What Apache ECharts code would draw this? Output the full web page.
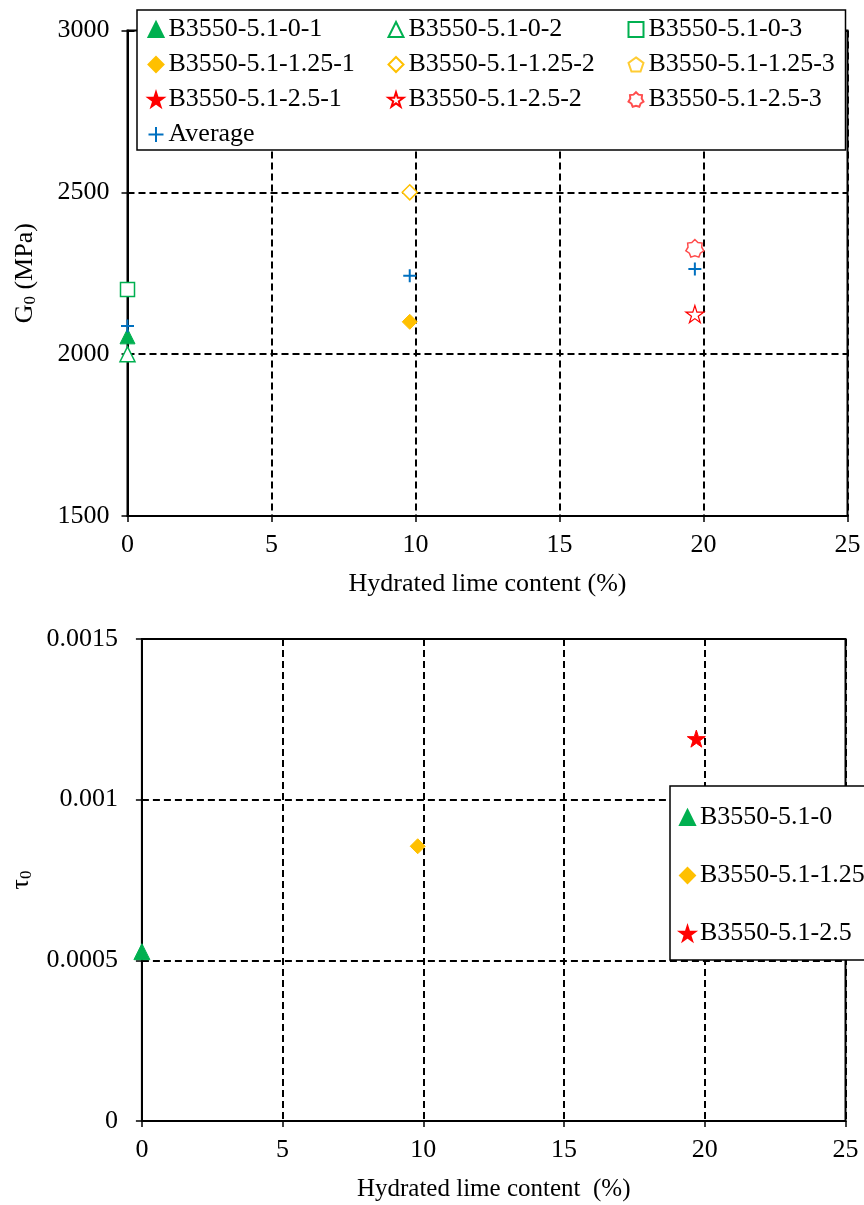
<!DOCTYPE html>
<html>
<head>
<meta charset="utf-8">
<script src="https://cdn.jsdelivr.net/npm/echarts@6/dist/echarts.min.js"></script>
<style>
html,body{margin:0;padding:0;background:#fff;}
#chart{width:864px;height:1205px;}
</style>
</head>
<body>
<div id="chart"></div>
<script>
// ---------- data ----------
const xTickValues = [0, 5, 10, 15, 20, 25];
const g0Names = ['B3550-5.1-0-1','B3550-5.1-0-2','B3550-5.1-0-3',
                 'B3550-5.1-1.25-1','B3550-5.1-1.25-2','B3550-5.1-1.25-3',
                 'B3550-5.1-2.5-1','B3550-5.1-2.5-2','B3550-5.1-2.5-3','Average'];
const g0_0_1   = [[0, 2055]];
const g0_0_2   = [[0, 2000]];
const g0_0_3   = [[0, 2200]];
const g0_125_1 = [[9.8, 2100]];
const g0_125_2 = [[9.8, 2500]];
const g0_125_3 = [];            // not visible in the figure
const g0_25_1  = [];            // not visible in the figure
const g0_25_2  = [[19.7, 2124]];
const g0_25_3  = [[19.7, 2327]];
const g0_avg   = [[0, 2087], [9.8, 2242], [19.7, 2263]];

const tauNames = ['B3550-5.1-0','B3550-5.1-1.25','B3550-5.1-2.5'];
const tau_0    = [[0, 0.000527]];
const tau_125  = [[9.8, 0.000855]];
const tau_25   = [[19.7, 0.00119]];

// ---------- styles ----------
const FONT = 'Liberation Serif';
const GREEN = '#00B050', YEL = '#FFC000', RED = '#FF0000', BLUE = '#0070C0';
const STAR = 'path://M50,0 L61,35 L98,35 L68,57 L79,91 L50,70 L21,91 L32,57 L2,35 L39,35 Z';
const PENT = 'path://M50,0 L98,35 L79,91 L21,91 L2,35 Z';
const HEPT = 'path://M50,0 L66.5,15.8 L89.1,18.8 L87,41.5 L98.7,61.1 L79.7,73.7 L71.7,95 L50,88 L28.3,95 L20.3,73.7 L1.3,61.1 L13,41.5 L10.9,18.8 L33.5,15.8 Z';
const PLUS = 'path://M0,5 L10,5 M5,0 L5,10';

function sc(name, data, symbol, size, fill, stroke, bw, xi, yi) {
  return {
    type: 'scatter', name, data, symbol, symbolSize: size,
    symbolKeepAspect: true,
    xAxisIndex: xi, yAxisIndex: yi,
    itemStyle: { color: fill, borderColor: stroke, borderWidth: bw, opacity: 1 },
    emphasis: { disabled: true }
  };
}

const axisCommon = {
  axisLine: { show: true, onZero: false, lineStyle: { color: '#000', width: 2 } },
  axisTick: { show: true, inside: false, length: 6, lineStyle: { color: '#000', width: 1.5 } },
  splitLine: { show: true, lineStyle: { color: '#000', width: 2, type: [7, 4] } },
  axisLabel: { color: '#000', fontFamily: FONT, fontSize: 26 },
  nameTextStyle: { color: '#000', fontFamily: FONT, fontSize: 26 }
};

const legendText = { color: '#000', fontFamily: FONT, fontSize: 26, lineHeight: 27 };

const chart = echarts.init(document.getElementById('chart'));
chart.setOption({
  animation: false,
  backgroundColor: '#fff',
  grid: [
    { left: 127.5, top: 30.5, width: 720, height: 485.5, show: true, borderColor: '#000', borderWidth: 2, backgroundColor: 'transparent' },
    { left: 136.5, top: 639, width: 709, height: 482, show: true, borderColor: '#000', borderWidth: 2, backgroundColor: 'transparent' }
  ],
  xAxis: [
    Object.assign({}, axisCommon, {
      type: 'value', gridIndex: 0, min: 0, max: 25, interval: 5,
      name: 'Hydrated lime content (%)', nameLocation: 'middle', nameGap: 55,
      axisLabel: Object.assign({}, axisCommon.axisLabel, { margin: 16 })
    }),
    Object.assign({}, axisCommon, {
      type: 'value', gridIndex: 1, min: 0, max: 25, interval: 5,
      name: 'Hydrated lime content  (%)', nameLocation: 'middle', nameGap: 56,
      nameTextStyle: Object.assign({}, axisCommon.nameTextStyle, { fontSize: 25 }),
      axisLabel: Object.assign({}, axisCommon.axisLabel, { margin: 16 })
    })
  ],
  yAxis: [
    Object.assign({}, axisCommon, {
      type: 'value', gridIndex: 0, min: 1500, max: 3000, interval: 500,
      name: '{a|G}{s|0}{a| (MPa)}', nameLocation: 'middle', nameGap: 88,
      nameTextStyle: { color: '#000', fontFamily: FONT, fontSize: 26,
        rich: { a: { fontFamily: FONT, fontSize: 26, color: '#000' },
                s: { fontFamily: FONT, fontSize: 17, color: '#000', padding: [12, 0, 0, 0] } } },
      axisLabel: Object.assign({}, axisCommon.axisLabel, { margin: 18,
        formatter: v => String(v) })
    }),
    Object.assign({}, axisCommon, {
      type: 'value', gridIndex: 1, min: 0, max: 0.0015, interval: 0.0005,
      name: '{a|τ}{s|0}', nameLocation: 'middle', nameGap: 104,
      nameTextStyle: { color: '#000', fontFamily: FONT, fontSize: 26,
        rich: { a: { fontFamily: FONT, fontSize: 26, color: '#000' },
                s: { fontFamily: FONT, fontSize: 17, color: '#000', padding: [12, 0, 0, 0] } } },
      axisLabel: Object.assign({}, axisCommon.axisLabel, { margin: 24,
        formatter: v => String(+v.toFixed(4)) })
    })
  ],
  legend: [
    {
      left: 137, top: 10, width: 700,
      orient: 'horizontal', align: 'left',
      padding: [6, 9, 2, 9], itemGap: 8, itemWidth: 15, itemHeight: 15,
      backgroundColor: '#fff', borderColor: '#000', borderWidth: 1.5,
      selectedMode: false, z: 20,
      textStyle: Object.assign({}, legendText, { width: 211 }),
      data: g0Names.map((n, i) => (i % 3 === 2 && i < 9)
        ? { name: n, textStyle: Object.assign({}, legendText, { width: 188 }) }
        : { name: n })
    },
    {
      left: 670, top: 786, orient: 'vertical', align: 'left',
      padding: [18, 30, 13, 9], itemGap: 31, itemWidth: 15, itemHeight: 15,
      backgroundColor: '#fff', borderColor: '#000', borderWidth: 1.5,
      selectedMode: false, z: 20,
      textStyle: legendText,
      data: tauNames
    }
  ],
  series: [
    sc(g0Names[0], g0_0_1,   'triangle', 15, GREEN, GREEN, 1, 0, 0),
    sc(g0Names[1], g0_0_2,   'triangle', 15, '#fff', GREEN, 1.5, 0, 0),
    sc(g0Names[2], g0_0_3,   'rect',     14, '#fff', GREEN, 1.5, 0, 0),
    sc(g0Names[3], g0_125_1, 'diamond',  15, YEL, YEL, 1, 0, 0),
    sc(g0Names[4], g0_125_2, 'diamond',  15, '#fff', YEL, 1.5, 0, 0),
    sc(g0Names[5], g0_125_3, PENT,       17, '#fff', '#FFCC33', 1.5, 0, 0),
    sc(g0Names[6], g0_25_1,  STAR,       17, RED, RED, 1, 0, 0),
    sc(g0Names[7], g0_25_2,  STAR,       18, '#fff', RED, 1.2, 0, 0),
    sc(g0Names[8], g0_25_3,  HEPT,       18, '#fff', '#FF4D4D', 1.5, 0, 0),
    sc(g0Names[9], g0_avg,   PLUS,       13, 'none', BLUE, 2, 0, 0),
    sc(tauNames[0], tau_0,   'triangle', 16, GREEN, GREEN, 1, 1, 1),
    sc(tauNames[1], tau_125, 'diamond',  15, YEL, YEL, 1, 1, 1),
    sc(tauNames[2], tau_25,  STAR,       18, RED, RED, 1, 1, 1)
  ]
});
</script>
</body>
</html>
